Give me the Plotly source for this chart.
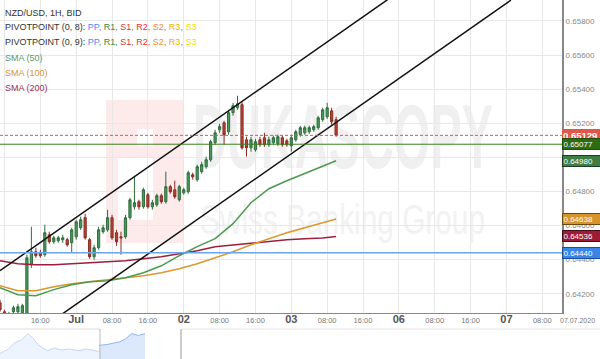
import base64
import pandas as pd
import plotly.graph_objects as go

# ---------------- data ----------------
bar_times = pd.date_range("2020-06-30 07:00", "2020-07-03 10:00", freq="h")

opens = [0.64147,0.64094,0.64059,0.64094,0.64094,0.64089,0.64059,0.64370,0.64446,0.64440,
 0.64429,0.64546,0.64505,0.64511,0.64517,0.64517,0.64499,0.64534,0.64587,0.64646,
 0.64517,0.64417,0.64470,0.64564,0.64575,0.64646,0.64558,0.64534,0.64534,0.64646,
 0.64710,0.64740,0.64710,0.64781,0.64710,0.64722,0.64775,0.64740,0.64828,0.64810,
 0.64751,0.64792,0.64798,0.64898,0.64869,0.64916,0.64945,0.64986,0.65086,0.65162,
 0.65203,0.65150,0.65262,0.65291,0.65309,0.65103,0.65056,0.65045,0.65103,0.65115,
 0.65074,0.65086,0.65080,0.65115,0.65097,0.65068,0.65103,0.65133,0.65144,0.65150,
 0.65162,0.65174,0.65221,0.65238,0.65273,0.65221]
highs = [0.64165,0.64106,0.64094,0.64130,0.64141,0.64141,0.64429,0.64593,0.64470,0.64458,
 0.64605,0.64564,0.64540,0.64540,0.64546,0.64528,0.64587,0.64634,0.64652,0.64669,
 0.64528,0.64487,0.64593,0.64605,0.64693,0.64663,0.64575,0.64564,0.64663,0.64763,
 0.64892,0.64751,0.64822,0.64792,0.64751,0.64787,0.64787,0.64916,0.64839,0.64863,
 0.64839,0.64822,0.64921,0.64910,0.64957,0.64974,0.65004,0.65103,0.65162,0.65197,
 0.65215,0.65279,0.65320,0.65361,0.65326,0.65121,0.65121,0.65109,0.65121,0.65144,
 0.65121,0.65127,0.65133,0.65127,0.65109,0.65133,0.65162,0.65185,0.65185,0.65185,
 0.65191,0.65244,0.65291,0.65320,0.65291,0.65238]
lows = [0.64094,0.64048,0.64036,0.64083,0.64077,0.64071,0.64048,0.64352,0.64411,0.64411,
 0.64417,0.64493,0.64493,0.64499,0.64499,0.64476,0.64440,0.64517,0.64575,0.64517,
 0.64405,0.64399,0.64458,0.64552,0.64564,0.64517,0.64481,0.64429,0.64523,0.64634,
 0.64693,0.64693,0.64699,0.64699,0.64693,0.64710,0.64728,0.64728,0.64787,0.64757,
 0.64740,0.64781,0.64787,0.64869,0.64857,0.64904,0.64933,0.64974,0.65074,0.65144,
 0.65074,0.65133,0.65244,0.65279,0.65045,0.65004,0.65033,0.65033,0.65062,0.65062,
 0.65062,0.65074,0.65068,0.65062,0.65062,0.65033,0.65092,0.65121,0.65133,0.65138,
 0.65150,0.65162,0.65209,0.65226,0.65191,0.65121]
closes = [0.64106,0.64059,0.64083,0.64118,0.64124,0.64130,0.64411,0.64446,0.64423,0.64423,
 0.64558,0.64505,0.64528,0.64528,0.64528,0.64487,0.64575,0.64622,0.64634,0.64528,
 0.64417,0.64470,0.64575,0.64587,0.64646,0.64528,0.64505,0.64528,0.64646,0.64751,
 0.64734,0.64710,0.64810,0.64710,0.64734,0.64775,0.64740,0.64828,0.64798,0.64769,
 0.64828,0.64810,0.64910,0.64886,0.64945,0.64957,0.64986,0.65092,0.65144,0.65180,
 0.65133,0.65262,0.65303,0.65314,0.65056,0.65056,0.65103,0.65092,0.65074,0.65074,
 0.65103,0.65115,0.65121,0.65074,0.65074,0.65115,0.65150,0.65174,0.65174,0.65174,
 0.65180,0.65232,0.65279,0.65291,0.65209,0.65129]

sma_times = ["2020-06-30 07:00","2020-06-30 11:00","2020-06-30 15:00","2020-06-30 19:00",
 "2020-06-30 23:00","2020-07-01 03:00","2020-07-01 07:00","2020-07-01 11:00",
 "2020-07-01 15:00","2020-07-01 19:00","2020-07-01 23:00","2020-07-02 03:00",
 "2020-07-02 07:00","2020-07-02 11:00","2020-07-02 15:00","2020-07-02 19:00",
 "2020-07-02 23:00","2020-07-03 03:00","2020-07-03 07:00","2020-07-03 10:00"]
sma50 = [0.64235,0.64194,0.64188,0.64224,0.64253,0.64270,0.64276,0.64294,0.64323,0.64364,
 0.64423,0.64476,0.64523,0.64611,0.64734,0.64816,0.64863,0.64904,0.64945,0.64980]
sma100 = [0.64247,0.64218,0.64218,0.64241,0.64259,0.64270,0.64282,0.64294,0.64306,0.64323,
 0.64347,0.64376,0.64411,0.64446,0.64487,0.64523,0.64558,0.64587,0.64616,0.64638]
sma200 = [0.64394,0.64376,0.64370,0.64370,0.64376,0.64382,0.64388,0.64394,0.64405,0.64417,
 0.64435,0.64452,0.64476,0.64487,0.64499,0.64508,0.64517,0.64523,0.64527,0.64536]

channel_upper_t = ["2020-06-30 07:00", "2020-07-03 23:00"]
channel_upper_p = [0.64335, 0.65953]
channel_lower_t = ["2020-06-30 07:00", "2020-07-07 01:00"]
channel_lower_p = [0.63826, 0.65922]

current_price = 0.65129
pivot_green = 0.65077
pivot_blue = 0.64440

label_values = [0.65129, 0.65077, 0.64980, 0.64638, 0.64536, 0.64440]
label_colors = ["#e0574a", "#2e6b12", "#3f7d46", "#d8942c", "#9c1b36", "#3a86e8"]
label_borders = ["#e0574a", "#1f4d0a", "#1e3d22", "#6b4a10", "#4a0c1a", "#1d4f99"]

y_ticks = [0.642, 0.644, 0.646, 0.648, 0.650, 0.652, 0.654, 0.656, 0.658]
x_tick_times = ["2020-06-30 08:00","2020-06-30 16:00","2020-07-01 00:00","2020-07-01 08:00",
 "2020-07-01 16:00","2020-07-02 00:00","2020-07-02 08:00","2020-07-02 16:00",
 "2020-07-03 00:00","2020-07-03 08:00","2020-07-03 16:00","2020-07-06 00:00",
 "2020-07-06 08:00","2020-07-06 16:00","2020-07-07 00:00","2020-07-07 08:00"]
x_tick_labels = ["08:00","16:00","Jul","08:00","16:00","02","08:00","16:00","03",
 "08:00","16:00","06","08:00","16:00","07","08:00"]
date_label = "07.07.2020"

nav_dates = ["2019-07-07","2019-07-12","2019-07-16","2019-07-20","2019-07-24","2019-07-27",
 "2019-07-30","2019-08-02","2019-08-05","2019-08-09","2019-08-13","2019-08-18",
 "2019-08-24","2019-08-28","2019-09-01","2019-09-05"]
nav_values = [0.6275,0.6338,0.6425,0.6463,0.6550,0.6488,0.6400,0.6350,0.6313,0.6350,
 0.6325,0.6338,0.6313,0.6338,0.6325,0.6300]
nav_sel_dates = ["2019-09-05","2019-09-10","2019-09-15","2019-09-18","2019-09-21",
 "2019-09-25","2019-09-29","2019-10-03"]
nav_sel_values = [0.6388,0.6400,0.6425,0.6438,0.6475,0.6550,0.6525,0.6550]

# ---------------- figure ----------------
W, H = 600, 359
PLOT_BOTTOM = 313
PLOT_W = 562
ydom_lo = (H - PLOT_BOTTOM) / H

fig = go.Figure()

fig.add_trace(go.Candlestick(
    x=bar_times, open=opens, high=highs, low=lows, close=closes,
    increasing=dict(line=dict(color="#2f6e3d", width=1), fillcolor="#4a985b"),
    decreasing=dict(line=dict(color="#8a2c22", width=1), fillcolor="#b5463b"),
    whiskerwidth=0, showlegend=False, hoverinfo="skip"))

for vals, col in [(sma200, "#9c1f3c"), (sma100, "#d8982f"), (sma50, "#4b9a52")]:
    fig.add_trace(go.Scatter(x=sma_times, y=vals, mode="lines",
                             line=dict(color=col, width=1.5), showlegend=False, hoverinfo="skip"))

for t, p in [(channel_upper_t, channel_upper_p), (channel_lower_t, channel_lower_p)]:
    fig.add_trace(go.Scatter(x=t, y=p, mode="lines", line=dict(color="#111111", width=1.5),
                             showlegend=False, hoverinfo="skip"))

# navigator
fig.add_trace(go.Scatter(x=nav_dates, y=nav_values, mode="lines", fill="tozeroy",
                         fillcolor="#eef4fd", line=dict(color="#c3d7f6", width=1),
                         xaxis="x2", yaxis="y2", showlegend=False, hoverinfo="skip"))
fig.add_trace(go.Scatter(x=nav_sel_dates, y=nav_sel_values, mode="lines", fill="tozeroy",
                         fillcolor="#dce8fb", line=dict(color="#8fb4f1", width=1),
                         xaxis="x2", yaxis="y2", showlegend=False, hoverinfo="skip"))

# horizontal levels
fig.add_shape(type="line", xref="x domain", x0=0, x1=1, yref="y", y0=current_price, y1=current_price,
              line=dict(color="#e0574a", width=1, dash="3px,2px"))
fig.add_shape(type="line", xref="x domain", x0=0, x1=1, yref="y", y0=pivot_green, y1=pivot_green,
              line=dict(color="#3b7d22", width=1))
fig.add_shape(type="line", xref="x domain", x0=0, x1=1, yref="y", y0=pivot_blue, y1=pivot_blue,
              line=dict(color="#6aa5f2", width=1.5))

# navigator borders
nav_top = (H - 329) / H
fig.add_shape(type="line", xref="paper", yref="paper", x0=0, x1=100 / PLOT_W, y0=nav_top, y1=nav_top,
              line=dict(color="#dddddd", width=1))
fig.add_shape(type="line", xref="paper", yref="paper", x0=181 / PLOT_W, x1=W / PLOT_W, y0=nav_top, y1=nav_top,
              line=dict(color="#e6e6e6", width=1))
fig.add_shape(type="line", xref="paper", yref="paper", x0=100 / PLOT_W, x1=100 / PLOT_W, y0=0, y1=nav_top,
              line=dict(color="#bbbbbb", width=1))
fig.add_shape(type="line", xref="paper", yref="paper", x0=181 / PLOT_W, x1=181 / PLOT_W, y0=0, y1=nav_top,
              line=dict(color="#cccccc", width=2))

# right-side price labels
for i, (v, c, b) in enumerate(zip(label_values, label_colors, label_borders)):
    big = i == 0
    fig.add_annotation(xref="paper", yref="y", x=1, y=v, xanchor="left", yanchor="middle",
                       text=("<b>%.5f</b>" % v) if big else ("%.5f" % v),
                       font=dict(color="white", size=9.5 if big else 8, family="Liberation Sans, Arial"),
                       bgcolor=c, bordercolor=b, borderwidth=1, borderpad=0 if big else 0.5,
                       showarrow=False, width=36, align="left")

fig.add_annotation(xref="paper", yref="paper", x=W / PLOT_W, xshift=-3, y=(H - 320) / H,
                   xanchor="right", yanchor="middle", text=date_label, showarrow=False,
                   font=dict(color="#777777", size=7, family="Liberation Sans, Arial"))

# legend text (top-left)
piv = ('<span style="color:#4a8ef0">PP</span>, <span style="color:#3a8a3a">R1</span>, '
       '<span style="color:#c93b3b">S1</span>, <span style="color:#f03030">R2</span>, '
       '<span style="color:#f08c30">S2</span>, <span style="color:#f0b400">R3</span>, '
       '<span style="color:#f0df00">S3</span>')
legend_lines = [
    (13, '<span style="color:#333333">NZD/USD, 1H, BID</span>'),
    (27, '<span style="color:#333333">PIVOTPOINT (0, 8): </span>' + piv),
    (42, '<span style="color:#333333">PIVOTPOINT (0, 9): </span>' + piv),
    (58, '<span style="color:#5a9a66">SMA (50)</span>'),
    (73, '<span style="color:#d8942c">SMA (100)</span>'),
    (88, '<span style="color:#a03050">SMA (200)</span>'),
]
for ypx, txt in legend_lines:
    fig.add_annotation(xref="paper", yref="paper", x=0, xshift=3, y=(H - ypx) / H,
                       xanchor="left", yanchor="middle", text=txt, showarrow=False,
                       font=dict(size=9, family="Liberation Sans, Arial"))

# watermark as svg image
svg = '''<svg xmlns="http://www.w3.org/2000/svg" width="562" height="313" viewBox="0 0 562 313">
<rect x="106" y="100" width="78" height="143" fill="#fdeaea"/>
<rect x="137" y="129" width="16" height="17" fill="#ffffff"/>
<rect x="118" y="158" width="35" height="62" fill="#ffffff"/>
<text x="193" y="168" font-family="Liberation Sans, Arial" font-weight="bold" font-size="90"
 fill="#f0f0f0" textLength="300" lengthAdjust="spacingAndGlyphs">DUKASCOPY</text>
<text x="200" y="234" font-family="Liberation Sans, Arial" font-size="42"
 fill="#f2f2f2" textLength="285" lengthAdjust="spacingAndGlyphs">Swiss Banking Group</text>
</svg>'''
src = "data:image/svg+xml;base64," + base64.b64encode(svg.encode()).decode()
fig.add_layout_image(dict(source=src, xref="paper", yref="paper", x=0, y=1, sizex=1,
                          sizey=1 - ydom_lo, xanchor="left", yanchor="top",
                          sizing="stretch", layer="below"))

tick_text = []
for lab in x_tick_labels:
    if ":" in lab:
        tick_text.append(lab)
    else:
        tick_text.append('<span style="font-size:11px;color:#555555"><b>%s</b></span>' % lab)

fig.update_layout(
    width=W, height=H,
    margin=dict(l=0, r=W - PLOT_W, t=0, b=0),
    paper_bgcolor="white", plot_bgcolor="rgba(0,0,0,0)",
    showlegend=False,
    font=dict(family="Liberation Sans, Arial", color="#777777"),
    xaxis=dict(type="date", range=["2020-06-30 07:00", "2020-07-07 12:24"],
               rangebreaks=[dict(bounds=["sat", "mon"])],
               rangeslider=dict(visible=False),
               tickmode="array", tickvals=x_tick_times, ticktext=tick_text,
               tickfont=dict(size=7.5, color="#777777"),
               showgrid=True, gridcolor="#e8e8e8", gridwidth=1,
               showline=True, linecolor="#888888", linewidth=1,
               ticks="", zeroline=False, fixedrange=True),
    yaxis=dict(domain=[ydom_lo, 1], range=[0.64087, 0.65923], side="right",
               tickmode="array", tickvals=y_ticks, tickformat=".5f",
               tickfont=dict(size=8, color="#888888"),
               showgrid=True, gridcolor="#e8e8e8", gridwidth=1,
               showline=True, linecolor="#888888", linewidth=2,
               ticks="", zeroline=False),
    xaxis2=dict(type="date", range=["2019-07-07", "2020-06-12"], anchor="y2",
                visible=False, showgrid=False),
    yaxis2=dict(domain=[0, (H - 330) / H], range=[0.62, 0.66], visible=False,
                showgrid=False, anchor="x2"),
)

fig.write_html("out.html", config={"displayModeBar": False},
               post_script="document.body.style.margin='0';document.body.style.overflow='hidden';")
